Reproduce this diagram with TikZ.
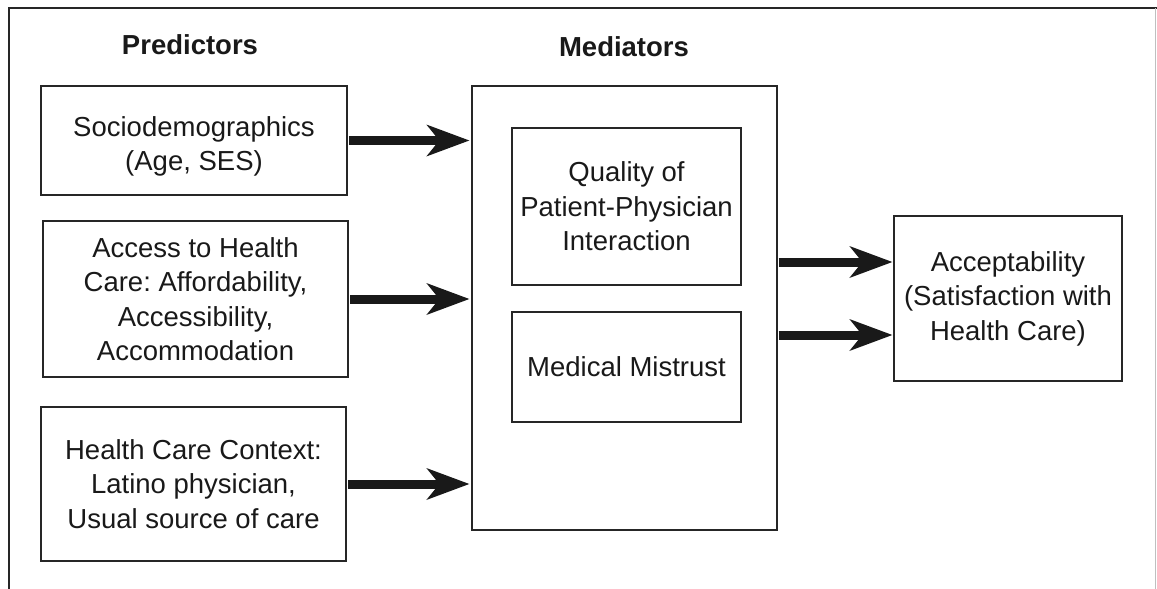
\documentclass[tikz,border=0pt]{standalone}
\usepackage{fontspec}
\setmainfont{Liberation Sans}
\usetikzlibrary{arrows.meta,calc}
\frenchspacing
\begin{document}
\begin{tikzpicture}[x=1pt,y=-1pt,
  boxfont/.style={font=\fontsize{27.5}{34.5}\selectfont,text=black!90,align=center},
  box/.style={draw=black!85,line width=1.4pt,rectangle,inner sep=0pt,boxfont},
  head/.style={font=\fontsize{27.5}{30}\selectfont\bfseries,text=black!90},
  bigarrow/.style={line width=9pt,draw=black!90,
    -{Stealth[length=43pt,width=32pt,inset=13pt,line width=0pt]}}]
\useasboundingbox (0,0) rectangle (1157,589);
% frame
\draw[black!85,line width=1.6pt] (9,589) -- (9,8) -- (1157,8);
\draw[black!25,line width=0.8pt] (1155.5,8) -- (1155.5,589);
% headings
\node[head] (hp) at (190,45) {Predictors};
\node[head] (hm) at (624,47) {Mediators};
% predictor boxes
\node[box,minimum width=306pt,minimum height=109pt,
  label={[boxfont,yshift=-6pt]center:Sociodemographics\\(Age, SES)}] (b1) at (194,140.5) {};
\node[box,minimum width=305pt,minimum height=156pt] (b2) at (195.5,299)
  {Access to Health\\Care: Affordability,\\Accessibility,\\Accommodation};
\node[box,minimum width=305pt,minimum height=154pt] (b3) at (193.5,484)
  {Health Care Context:\\Latino physician,\\Usual source of care};
% mediators
\node[box,minimum width=305pt,minimum height=444pt] (med) at (624.5,308) {};
\node[box,minimum width=229pt,minimum height=157pt] (m1) at (626.5,206.5)
  {Quality of\\Patient-Physician\\Interaction};
\node[box,minimum width=229pt,minimum height=110pt] (m2) at (626.5,367)
  {Medical Mistrust};
% outcome
\node[box,minimum width=228pt,minimum height=165pt] (acc) at (1008,298.5)
  {Acceptability\\(Satisfaction with\\Health Care)};
% arrows
\draw[bigarrow,shorten <=1.5pt,shorten >=2pt] (b1.east) -- (b1.east -| med.west);
\draw[bigarrow,shorten <=1.5pt,shorten >=2pt] (b2.east) -- (b2.east -| med.west);
\draw[bigarrow,shorten <=1.5pt,shorten >=2pt] (b3.east) -- (b3.east -| med.west);
\draw[bigarrow,shorten <=1pt,shorten >=1pt] ([yshift=46pt]med.east) -- ([yshift=46pt]med.east -| acc.west);
\draw[bigarrow,shorten <=1pt,shorten >=1pt] ([yshift=-27pt]med.east) -- ([yshift=-27pt]med.east -| acc.west);
\end{tikzpicture}
\end{document}
